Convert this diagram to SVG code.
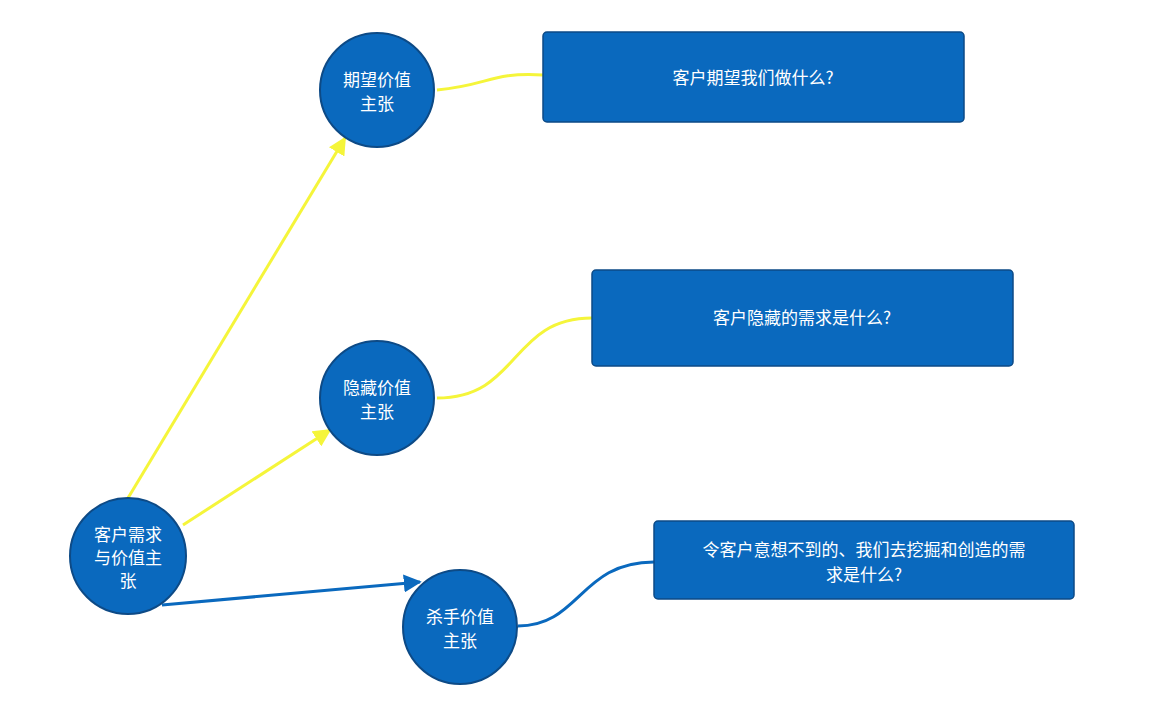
<svg xmlns="http://www.w3.org/2000/svg" width="1150" height="707" viewBox="0 0 1150 707">
<style>
.c{fill:#0a69be;stroke:#0d4a86;stroke-width:2}
.b{fill:#0a69be;stroke:#0d4a86;stroke-width:1.5}
text{font-family:"Noto Sans CJK SC","Noto Sans",sans-serif;fill:#fff;font-size:17px;text-anchor:middle}
.y{stroke:#f5f53a;stroke-width:3;fill:none}
.bl{stroke:#0a69be;stroke-width:3;fill:none}
</style>
<defs>
<marker id="ay" viewBox="0 0 10 10" refX="9" refY="5" markerWidth="6" markerHeight="6" orient="auto" markerUnits="strokeWidth"><path d="M0,0L10,5L0,10z" fill="#f5f53a"/></marker>
<marker id="ab" viewBox="0 0 10 10" refX="9" refY="5" markerWidth="6" markerHeight="6" orient="auto" markerUnits="strokeWidth"><path d="M0,0L10,5L0,10z" fill="#0a69be"/></marker>
</defs>
<rect width="1150" height="707" fill="#fff"/>
<g id="connectors">
<path class="y" d="M128,498L345,138" marker-end="url(#ay)"/>
<path class="y" d="M183,525L330,430" marker-end="url(#ay)"/>
<path class="bl" d="M162,605L420,582" marker-end="url(#ab)"/>
<path class="y" d="M437,90C490,85 490,72 543,75"/>
<path class="y" d="M437,398C520,398 510,318 592,318"/>
<path class="bl" d="M518,626C580,626 580,562 654,562"/>
</g>
<g id="root"><circle class="c" cx="128" cy="556" r="58"/><text x="128" y="541">客户需求</text><text x="128" y="564">与价值主</text><text x="128" y="587">张</text></g>
<g id="n1"><circle class="c" cx="377" cy="90" r="57"/><text x="377" y="86">期望价值</text><text x="377" y="110">主张</text></g>
<g id="n2"><circle class="c" cx="377" cy="398" r="57"/><text x="377" y="394">隐藏价值</text><text x="377" y="418">主张</text></g>
<g id="n3"><circle class="c" cx="460" cy="627" r="57"/><text x="460" y="623">杀手价值</text><text x="460" y="647">主张</text></g>
<g id="b1"><rect class="b" x="543" y="32" width="421" height="90" rx="4"/><text x="753" y="84">客户期望我们做什么?</text></g>
<g id="b2"><rect class="b" x="592" y="270" width="421" height="96" rx="4"/><text x="802" y="324">客户隐藏的需求是什么?</text></g>
<g id="b3"><rect class="b" x="654" y="521" width="420" height="78" rx="4"/><text x="864" y="556">令客户意想不到的、我们去挖掘和创造的需</text><text x="864" y="581">求是什么?</text></g>
</svg>
